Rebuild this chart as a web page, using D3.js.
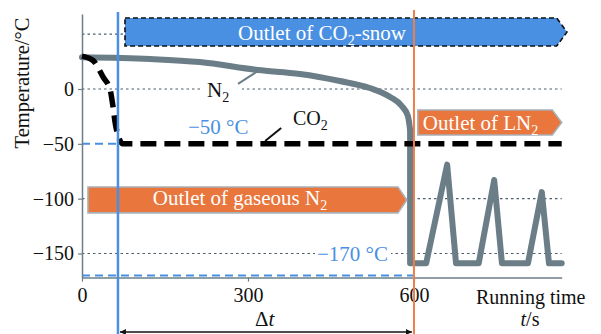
<!DOCTYPE html>
<html>
<head>
<meta charset="utf-8">
<script src="https://cdn.jsdelivr.net/npm/d3@7/dist/d3.min.js"></script>
<style>
  html, body { margin: 0; padding: 0; background: #fff; }
  svg { display: block; }
</style>
</head>
<body>
<svg id="chart" width="601" height="334"></svg>
<script>
// CO2 outlet temperature (time in s, temperature in °C)
const co2Time = [0, 20, 38, 51, 56, 60, 65, 74, 100, 867];
const co2Temp = [30, 26, 11, -1, -16, -31, -42, -50, -50, -50];

// N2 outlet temperature: slow cooling phase, then LN2 cycling
const n2CoolTime = [0, 123, 213, 318, 394, 466, 520, 557, 578, 589, 593];
const n2CoolTemp = [29, 27.4, 24.6, 17.3, 13.7, 7.3, 0.9, -7.3, -15.5, -24.6, -37.4];
const n2CycleTime = [593, 593, 622, 660, 676, 717, 745, 759, 806, 831, 844, 867];
const n2CycleTemp = [-37.4, -159, -159, -69, -159, -159, -83, -159, -159, -94, -159, -159];

const yTicks = [0, -50, -100, -150];
const xTicks = [0, 300, 600];
const gridTemps = [50, 0, -100, -150];
const switchTimes = [65, 600];          // CO2-snow outlet opens, LN2 outlet opens
const markTemps = [-50, -170];          // reference temperatures
const markEnds = [65, 600];             // time each reference line runs to

const FONT = "Times New Roman, Liberation Serif, Tinos, DejaVu Serif, serif";
const blue = "#4a90e2", orange = "#e8763d", orangeLine = "#ef7e4a", grey = "#6b7e88";

const svg = d3.select("#chart").attr("font-family", FONT);
const x = d3.scaleLinear().domain([0, 867]).range([82, 561.7]);
const y = d3.scaleLinear().domain([-172, 68.4]).range([277.6, 14]);
const minus = v => v < 0 ? "\u2212" + Math.abs(v) : String(v);

function label(px, py, size, fill) {
  return svg.append("text").attr("x", px).attr("y", py)
    .style("font-family", FONT).attr("font-size", size).attr("fill", fill);
}
// text with subscript / italic parts
function rich(sel, parts, subSize) {
  parts.forEach(p => {
    if (p.sub) {
      sel.append("tspan").attr("dy", 5).attr("font-size", subSize).text(p.t);
    } else if (p.after) {
      sel.append("tspan").attr("dy", -5).text(p.t);
    } else if (p.it) {
      sel.append("tspan").attr("font-style", "italic").text(p.t);
    } else {
      sel.append("tspan").text(p.t);
    }
  });
  return sel;
}

// dotted grid
svg.append("g").selectAll("line").data(gridTemps).join("line")
  .attr("x1", x(0)).attr("x2", x(867))
  .attr("y1", d => y(d)).attr("y2", d => y(d))
  .attr("stroke", "#4f5d68").attr("stroke-width", 1.2).attr("stroke-dasharray", "2.5,3");

// reference temperature lines
svg.append("g").selectAll("line").data(markTemps).join("line")
  .attr("x1", x(0)).attr("x2", (d, i) => x(markEnds[i]))
  .attr("y1", d => y(d)).attr("y2", d => y(d))
  .attr("stroke", blue).attr("stroke-width", 2).attr("stroke-dasharray", "8,5");

// axes
const xAxis = svg.append("g").attr("transform", `translate(0,${y(-172)})`)
  .call(d3.axisBottom(x).tickValues(xTicks).tickFormat(d3.format("d"))
    .tickSizeInner(4).tickSizeOuter(0).tickPadding(6));
const yAxis = svg.append("g").attr("transform", `translate(${x(0)},0)`)
  .call(d3.axisLeft(y).tickValues(yTicks).tickFormat(minus)
    .tickSizeInner(4).tickSizeOuter(0).tickPadding(4));
[xAxis, yAxis].forEach(g => {
  g.attr("font-family", FONT).attr("font-size", 20);
  g.select(".domain").attr("stroke", grey).attr("stroke-width", 1.5);
  g.selectAll(".tick line").attr("stroke", grey).attr("stroke-width", 1.2);
  g.selectAll(".tick text").attr("fill", "#111").style("font-family", FONT);
});

// label backgrounds and annotation labels
svg.append("rect").attr("x", 200).attr("y", 80).attr("width", 42).attr("height", 24).attr("fill", "#fff");
rich(label(207, 97, 21, "#111"), [{t: "N"}, {t: "2", sub: true}], 14);
svg.append("line")
  .attr("x1", x(282)).attr("y1", y(4.6)).attr("x2", x(318)).attr("y2", y(16.4))
  .attr("stroke", grey).attr("stroke-width", 2);

label(188, 134, 21, blue).text("\u221250 \u00B0C");

rich(label(293, 125, 20, "#111"), [{t: "CO"}, {t: "2", sub: true}], 14);
svg.append("line")
  .attr("x1", x(331)).attr("y1", y(-47.4)).attr("x2", x(360)).attr("y2", y(-35.6))
  .attr("stroke", "#111").attr("stroke-width", 2);

svg.append("rect").attr("x", 315).attr("y", 245).attr("width", 76).attr("height", 18).attr("fill", "#fff");
label(317, 261, 21, blue).text("\u2212170 \u00B0C");

// N2 trace
svg.append("path").datum(d3.zip(n2CoolTime, n2CoolTemp))
  .attr("d", d3.line().x(d => x(d[0])).y(d => y(d[1])).curve(d3.curveMonotoneX))
  .attr("fill", "none").attr("stroke", grey).attr("stroke-width", 6)
  .attr("stroke-linecap", "round");
svg.append("path").datum(d3.zip(n2CycleTime, n2CycleTemp))
  .attr("d", d3.line().x(d => x(d[0])).y(d => y(d[1])))
  .attr("fill", "none").attr("stroke", grey).attr("stroke-width", 6)
  .attr("stroke-linejoin", "round").attr("stroke-linecap", "round");

// CO2 trace
svg.append("path").datum(d3.zip(co2Time, co2Temp))
  .attr("d", d3.line().x(d => x(d[0])).y(d => y(d[1])).curve(d3.curveMonotoneX))
  .attr("fill", "none").attr("stroke", "#000").attr("stroke-width", 5.5)
  .attr("stroke-dasharray", "16,8");

// outlet boxes (chevron-ended), positioned in data units
function chevron(b) {
  const x0 = x(b.t0), x1 = x(b.t1), xt = x(b.tip), y0 = y(b.vTop), y1 = y(b.vBot);
  return `M${x0},${y0}H${x1}L${xt},${(y0 + y1) / 2}L${x1},${y1}H${x0}Z`;
}
const boxes = [
  {t0: 77.7, t1: 858, tip: 876.5, vTop: 64.7, vBot: 39.2, fill: blue, stroke: "#111", dash: "5,3",
   textT: 282, textV: 44.7, parts: [{t: "Outlet of CO"}, {t: "2", sub: true}, {t: "-snow", after: true}]},
  {t0: 607, t1: 850, tip: 867, vTop: -19.1, vBot: -41.9, fill: orange, stroke: "#a9b0b6", dash: null,
   textT: 616, textV: -37.4, parts: [{t: "Outlet of LN"}, {t: "2", sub: true}]},
  {t0: 10.8, t1: 571, tip: 587, vTop: -89.4, vBot: -113, fill: orange, stroke: "#a9b0b6", dash: null,
   textT: 128, textV: -105.8, parts: [{t: "Outlet of gaseous N"}, {t: "2", sub: true}]}
];
boxes.forEach(b => {
  svg.append("path").attr("d", chevron(b)).attr("fill", b.fill)
    .attr("stroke", b.stroke).attr("stroke-width", 1.6)
    .attr("stroke-dasharray", b.dash);
  rich(label(x(b.textT), y(b.textV), 21, "#fff"), b.parts, 14);
});

// outlet switch-over times
svg.append("g").selectAll("line").data(switchTimes).join("line")
  .attr("x1", d => x(d)).attr("x2", d => x(d))
  .attr("y1", (d, i) => i ? 10 : 12).attr("y2", 334)
  .attr("stroke", (d, i) => i ? orangeLine : blue).attr("stroke-width", (d, i) => i ? 2 : 2.5);

// Δt span between the two switch-overs
const defs = svg.append("defs");
defs.append("marker").attr("id", "head").attr("viewBox", "0 0 10 10")
  .attr("refX", 10).attr("refY", 5).attr("markerWidth", 9).attr("markerHeight", 6)
  .attr("markerUnits", "userSpaceOnUse").attr("orient", "auto-start-reverse")
  .append("path").attr("d", "M0,0L10,5L0,10Z").attr("fill", "#111");
svg.append("line")
  .attr("x1", x(switchTimes[0]) + 2).attr("x2", x(switchTimes[1]) - 2)
  .attr("y1", 332).attr("y2", 332)
  .attr("stroke", "#111").attr("stroke-width", 1.3)
  .attr("marker-start", "url(#head)").attr("marker-end", "url(#head)");
rich(label(255, 326, 21, "#111"), [{t: "\u0394"}, {t: "t", it: true}], 14);

// axis titles
label(476, 304, 20, "#111").text("Running time");
rich(label(530, 326, 20, "#111").attr("text-anchor", "middle"),
  [{t: "t", it: true}, {t: "/s"}], 14);
svg.append("text").attr("transform", "translate(28.5,83) rotate(-90)")
  .attr("text-anchor", "middle").style("font-family", FONT).attr("font-size", 20.5).attr("fill", "#111")
  .text("Temperature/\u00B0C");
</script>
</body>
</html>
